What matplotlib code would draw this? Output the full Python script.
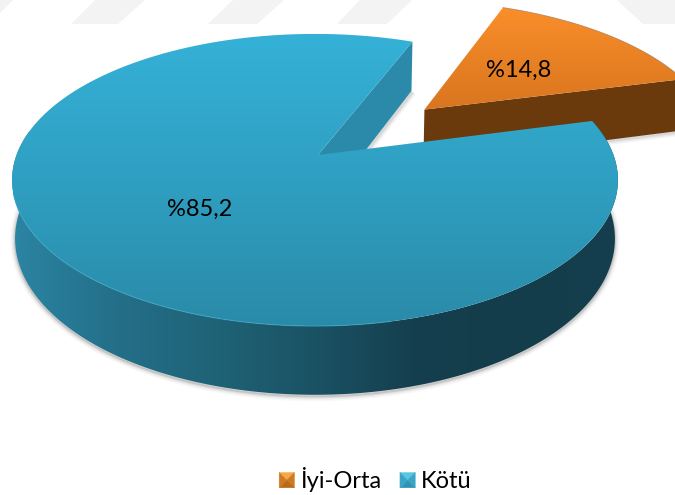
import numpy as np
import matplotlib
matplotlib.use("Agg")
import matplotlib.pyplot as plt
from matplotlib.colors import LinearSegmentedColormap
from matplotlib.legend_handler import HandlerPatch
from matplotlib.patches import Patch, Polygon

labels = ["İyi-Orta", "Kötü"]
values = [14.8, 85.2]
value_labels = ["%14,8", "%85,2"]

plt.rcParams["font.family"] = ["Lato", "DejaVu Sans"]

# projection of the pie plane onto the picture, in pixels
X0, Y0 = 315.0, 155.0
A, B, K = 298.5, 141.8, -0.171
DEPTH = 57.0
PINCH = 0.99
START = 14.5
EXPLODE = 0.515
APEX_SHIFT = 3.0

# grey watermark bands at the very top
WATERMARK = [
    [(0, 0), (13, 0), (0, 13)],
    [(95, 0), (145, 0), (118, 24), (71, 24)],
    [(233, 0), (284, 0), (257, 24), (208, 24)],
    [(360, 0), (412, 0), (387, 24), (337, 24)],
    [(617, 0), (675, 0), (675, 24), (643, 24)],
]


def project(u, v, depth=0.0):
    w = 1 + K * v
    scale = PINCH if depth else 1.0
    return X0 + scale * A * u / w, Y0 + B * v / w + depth / w


def arc(t0, t1, cx=0.0, cy=0.0, depth=0.0, n=160):
    t = np.radians(np.linspace(t0, t1, n))
    return project(cx + np.cos(t), cy - np.sin(t), depth)


def grad_fill(ax, xy, colors, vertical=True, extent=(0, 675, 495, 0), zorder=2):
    poly = Polygon(xy, closed=True, fc="none", ec="none", zorder=zorder)
    ax.add_patch(poly)
    cmap = LinearSegmentedColormap.from_list("g", colors)
    ramp = np.linspace(0, 1, 256)
    ramp = ramp[:, None] if vertical else ramp[None, :]
    im = ax.imshow(ramp, cmap=cmap, extent=extent, aspect="auto", zorder=zorder,
                   interpolation="bilinear", vmin=0, vmax=1)
    im.set_clip_path(poly)


class BevelHandler(HandlerPatch):
    """Small square with four shaded sides, as in the office legend key."""

    def __init__(self, shades):
        super().__init__()
        self.shades = shades

    def create_artists(self, legend, orig, xd, yd, width, height, fontsize, trans):
        s = 11.0
        x0, y0 = -xd, -yd - 0.5
        x1, y1 = x0 + s, y0 + s
        cx, cy = x0 + s / 2, y0 + s / 2
        corners = [(x0, y1), (x1, y1), (x1, y0), (x0, y0)]
        out = []
        for i, col in enumerate(self.shades):
            tri = Polygon([corners[i], corners[(i + 1) % 4], (cx, cy)], fc=col, ec=col, lw=0.3,
                          transform=trans)
            out.append(tri)
        return out


fig = plt.figure(figsize=(6.75, 4.95), dpi=100)
ax = fig.add_axes([0, 0, 1, 1])

for band in WATERMARK:
    ax.add_patch(Polygon(band, closed=True, fc="#f3f3f3", ec="none", zorder=0))

sweep_small = 360 * values[0] / sum(values)
sweep_big = 360 * values[1] / sum(values)
t_a = START
t_b = START + sweep_small
t_end = t_b + sweep_big

# exploded orange slice
mid = np.radians((t_a + t_b) / 2)
cu, cv = EXPLODE * np.cos(mid), -EXPLODE * np.sin(mid)
ox, oy = arc(t_a, t_b, cu, cv)
ax0, ay0 = project(cu, cv)
ax1, ay1 = project(cu, cv, DEPTH)
ox_b, oy_b = project(cu + np.cos(np.radians(t_a)), cv - np.sin(np.radians(t_a)), DEPTH)

# soft shadow of the orange side
for lw, alpha in [(6, 0.05), (4, 0.07), (2, 0.1)]:
    ax.plot([ax1, ox_b], [ay1 + 1, oy_b + 1], color="#444444", lw=lw, alpha=alpha, zorder=1,
            solid_capstyle="butt")
ax.add_patch(Polygon([(ax0, ay0), (ox[0], oy[0]), (ox_b, oy_b), (ax1, ay1)],
                     closed=True, fc="#6a3a0c", ec="none", zorder=2))
grad_fill(ax, np.column_stack([np.r_[ax0, ox], np.r_[ay0, oy]]), ["#fb8f2a", "#d8751f"],
          extent=(0, 675, 112, 3), zorder=3)
ax.plot(ox, oy, color="#9a7a5a", lw=0.6, alpha=0.7, zorder=3)

# big slice: notch wall
nx, ny = project(np.cos(np.radians(t_b)), -np.sin(np.radians(t_b)))
nx1, ny1 = project(np.cos(np.radians(t_b)), -np.sin(np.radians(t_b)), DEPTH)
bx0, by0 = project(0, 0)
bx1, by1 = project(0, 0, DEPTH)
bx0 += APEX_SHIFT
bx1 += APEX_SHIFT
for lw, alpha in [(6, 0.05), (4, 0.07), (2, 0.1)]:
    ax.plot([nx1 + 1, bx1 + 1], [ny1 + 1, by1 + 1], color="#444444", lw=lw, alpha=alpha, zorder=3,
            solid_capstyle="butt")
ax.add_patch(Polygon([(bx0, by0), (nx, ny), (nx1, ny1), (bx1, by1)],
                     closed=True, fc="#2b8aa9", ec="none", zorder=4))

# big slice: outer wall (front half only) with its shadow
sx, sy = arc(t_b, t_end)
wx, wy = arc(170, t_end)
wbx, wby = arc(170, t_end, depth=DEPTH)
for lw, alpha in [(7, 0.03), (5, 0.05), (3, 0.08), (1.5, 0.14)]:
    ax.plot(wbx, wby + 1.5, color="#333333", lw=lw, alpha=alpha, zorder=4)
grad_fill(ax, np.column_stack([np.r_[wx, wbx[::-1]], np.r_[wy, wby[::-1]]]),
          ["#2b85a3", "#246f89", "#1f6377", "#1a5264", "#153f4e", "#143d4b", "#153f4e"],
          vertical=False, extent=(12, 618, 495, 0), zorder=5)

# big slice: top face
grad_fill(ax, np.column_stack([np.r_[bx0, sx], np.r_[by0, sy]]),
          ["#35b1d7", "#2f9fc1", "#2a8aa8"], extent=(0, 675, 330, 34), zorder=6)
rim = (sy > 190) & (sx < 400)
ax.plot(sx[rim], sy[rim], color="#3aa5c6", lw=0.8, alpha=0.7, zorder=7)

# data labels
for i, (tx, ty) in enumerate([(519, 70), (200, 209)]):
    ax.text(tx, ty, value_labels[i], ha="center", va="center", fontsize=17, color="black", zorder=8)

handles = [Patch(label=labels[0]), Patch(label=labels[1])]
leg = ax.legend(handles=handles, loc="center", bbox_to_anchor=(375.5 / 675, 1 - 479 / 495),
                ncol=2, frameon=False, fontsize=17, handlelength=0.65, handleheight=0.65,
                handletextpad=0.25, columnspacing=0.78, labelspacing=0,
                handler_map={
                    handles[0]: BevelHandler(["#f6a845", "#cf7a22", "#b96a18", "#cf7a22"]),
                    handles[1]: BevelHandler(["#58c8e2", "#3aa5c8", "#2f93b5", "#3aa5c8"]),
                })
leg.set_zorder(9)

ax.set_xlim(0, 675)
ax.set_ylim(495, 0)
ax.axis("off")
fig.savefig("out.png", dpi=100, facecolor="white")
plt.close(fig)
